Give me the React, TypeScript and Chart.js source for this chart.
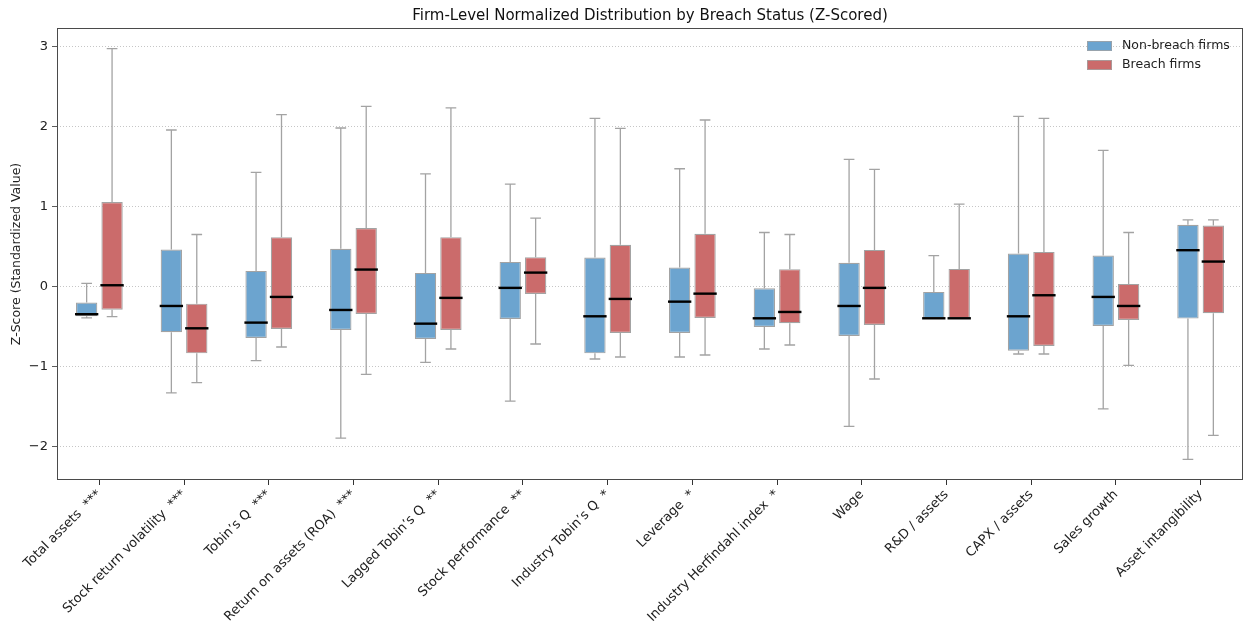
import { useEffect, useRef } from 'react';
import { Chart, registerables } from 'chart.js';

Chart.register(...registerables);

const categories = [
  'Total assets  ***',
  'Stock return volatility  ***',
  'Tobin’s Q  ***',
  'Return on assets (ROA)  ***',
  'Lagged Tobin’s Q  **',
  'Stock performance  **',
  'Industry Tobin’s Q  *',
  'Leverage  *',
  'Industry Herfindahl index  *',
  'Wage',
  'R&D / assets',
  'CAPX / assets',
  'Sales growth',
  'Asset intangibility',
];

const seriesNames = ['Non-breach firms', 'Breach firms'];
const seriesColors = ['#6ca4cf', '#cb6b6b'];

// Non-breach firms
const nonMin = [-0.39, -1.327, -0.926, -1.894, -0.946, -1.43, -0.905, -0.88, -0.78, -1.747, -0.396, -0.842, -1.527, -2.16];
const nonQ1 = [-0.37, -0.571, -0.642, -0.542, -0.655, -0.404, -0.834, -0.579, -0.504, -0.617, -0.396, -0.801, -0.492, -0.4];
const nonMed = [-0.345, -0.242, -0.45, -0.292, -0.463, -0.016, -0.371, -0.188, -0.396, -0.242, -0.396, -0.371, -0.129, 0.455];
const nonQ3 = [-0.2, 0.463, 0.196, 0.472, 0.171, 0.309, 0.363, 0.238, -0.02, 0.297, -0.066, 0.413, 0.388, 0.772];
const nonMax = [0.04, 1.957, 1.427, 1.982, 1.41, 1.282, 2.103, 1.473, 0.676, 1.59, 0.388, 2.128, 1.702, 0.835];

// Breach firms
const brMin = [-0.375, -1.2, -0.755, -1.096, -0.78, -0.717, -0.88, -0.855, -0.73, -1.155, -0.396, -0.842, -0.984, -1.86];
const brQ1 = [-0.29, -0.834, -0.529, -0.342, -0.542, -0.091, -0.579, -0.392, -0.458, -0.479, -0.396, -0.742, -0.417, -0.333];
const brMed = [0.017, -0.521, -0.129, 0.213, -0.141, 0.175, -0.154, -0.088, -0.317, -0.016, -0.396, -0.108, -0.242, 0.313];
const brQ3 = [1.056, -0.213, 0.618, 0.731, 0.618, 0.368, 0.522, 0.66, 0.218, 0.459, 0.221, 0.434, 0.034, 0.763];
const brMax = [2.975, 0.651, 2.149, 2.253, 2.233, 0.856, 1.978, 2.082, 0.651, 1.464, 1.031, 2.103, 0.676, 0.835];

const yTicks = [-2, -1, 0, 1, 2, 3];

const stats = [
  { min: nonMin, q1: nonQ1, med: nonMed, q3: nonQ3, max: nonMax },
  { min: brMin, q1: brQ1, med: brMed, q3: brQ3, max: brMax },
];

const FONT = "'DejaVu Sans', sans-serif";

const boxPlugin = {
  id: 'boxExtras',
  beforeDatasetsDraw(chart: any) {
    const y = chart.scales.y;
    const ctx = chart.ctx;
    ctx.save();
    ctx.strokeStyle = '#a3a3a3';
    ctx.lineWidth = 1.3;
    stats.forEach((s, di) => {
      const meta = chart.getDatasetMeta(di);
      meta.data.forEach((bar: any, i: number) => {
        const x = bar.x;
        const cw = bar.width * 0.5;
        const pMin = y.getPixelForValue(s.min[i]);
        const pQ1 = y.getPixelForValue(s.q1[i]);
        const pQ3 = y.getPixelForValue(s.q3[i]);
        const pMax = y.getPixelForValue(s.max[i]);
        ctx.beginPath();
        ctx.moveTo(x, pQ1);
        ctx.lineTo(x, pMin);
        ctx.moveTo(x - cw / 2, pMin);
        ctx.lineTo(x + cw / 2, pMin);
        ctx.moveTo(x, pQ3);
        ctx.lineTo(x, pMax);
        ctx.moveTo(x - cw / 2, pMax);
        ctx.lineTo(x + cw / 2, pMax);
        ctx.stroke();
      });
    });
    ctx.restore();
  },
  afterDatasetsDraw(chart: any) {
    const y = chart.scales.y;
    const ctx = chart.ctx;
    ctx.save();
    ctx.strokeStyle = '#000000';
    ctx.lineWidth = 2.4;
    stats.forEach((s, di) => {
      const meta = chart.getDatasetMeta(di);
      meta.data.forEach((bar: any, i: number) => {
        const x = bar.x;
        const hw = bar.width / 2 + 1;
        const pMed = y.getPixelForValue(s.med[i]);
        ctx.beginPath();
        ctx.moveTo(x - hw, pMed);
        ctx.lineTo(x + hw, pMed);
        ctx.stroke();
      });
    });
    ctx.restore();
  },
  afterDraw(chart: any) {
    const ctx = chart.ctx;
    const a = chart.chartArea;
    ctx.save();
    ctx.strokeStyle = '#4a4a4a';
    ctx.lineWidth = 1;
    ctx.strokeRect(Math.round(a.left) + 0.5, Math.round(a.top) + 0.5, Math.round(a.right - a.left) - 1, Math.round(a.bottom - a.top) - 1);
    // legend
    const bx = a.right - 156;
    ctx.font = `12.5px ${FONT}`;
    ctx.textBaseline = 'middle';
    ctx.textAlign = 'left';
    seriesNames.forEach((name, i) => {
      const cy = a.top + 18 + i * 19;
      ctx.fillStyle = seriesColors[i];
      ctx.fillRect(bx, cy - 5, 25, 10);
      ctx.strokeStyle = '#a3a3a3';
      ctx.lineWidth = 0.8;
      ctx.strokeRect(bx + 0.5, cy - 5 + 0.5, 24, 9);
      ctx.fillStyle = '#222222';
      ctx.fillText(name, bx + 35, cy);
    });
    ctx.restore();
  },
};

export default function App() {
  const ref = useRef<HTMLCanvasElement | null>(null);
  useEffect(() => {
    document.body.style.margin = '0';
    const canvas = ref.current;
    if (!canvas) return;
    const chart = new Chart(canvas, {
      type: 'bar',
      data: {
        labels: categories,
        datasets: stats.map((s, di) => ({
          label: seriesNames[di],
          data: categories.map((_, i) => [s.q1[i], s.q3[i]] as [number, number]),
          backgroundColor: seriesColors[di],
          borderColor: '#a3a3a3',
          borderWidth: 1.2,
          borderSkipped: false,
          categoryPercentage: 0.6,
          barPercentage: 0.84,
        })),
      },
      options: {
        responsive: false,
        animation: false,
        layout: { padding: { left: 0, right: 2, top: 0, bottom: 0 } },
        plugins: {
          legend: { display: false },
          tooltip: { enabled: false },
          title: {
            display: true,
            fullSize: false,
            text: 'Firm-Level Normalized Distribution by Breach Status (Z-Scored)',
            color: '#111111',
            font: { family: FONT, size: 15, weight: 'normal' },
            padding: { top: 7, bottom: 3 },
          },
        },
        scales: {
          x: {
            type: 'category',
            offset: true,
            grid: {
              display: true,
              drawOnChartArea: false,
              drawTicks: true,
              offset: false,
              tickLength: 5,
              tickColor: '#333333',
            },
            border: { display: false },
            ticks: {
              autoSkip: false,
              maxRotation: 45,
              minRotation: 45,
              padding: 2,
              color: '#222222',
              font: { family: FONT, size: 13 },
            },
            afterFit(scale: any) {
              scale.height = 142;
            },
          },
          y: {
            type: 'linear',
            min: -2.417,
            max: 3.232,
            afterBuildTicks(scale: any) {
              scale.ticks = yTicks.map((v) => ({ value: v }));
            },
            grid: {
              color: '#b8b8b8',
              lineWidth: 0.8,
              drawTicks: true,
              tickLength: 5,
              tickColor: '#333333',
              tickBorderDash: [],
            },
            border: { display: false, dash: [1, 2] },
            ticks: {
              padding: 4,
              color: '#222222',
              font: { family: FONT, size: 13 },
              callback: (v: any) => (Number(v) < 0 ? '\u2212' + Math.abs(Number(v)) : String(v)),
            },
            title: {
              display: true,
              text: 'Z-Score (Standardized Value)',
              color: '#222222',
              font: { family: FONT, size: 12.5 },
              padding: { top: 9, bottom: 0 },
            },
            afterFit(scale: any) {
              scale.width = 57;
            },
          },
        },
      },
      plugins: [boxPlugin],
    });
    return () => chart.destroy();
  }, []);
  return <canvas ref={ref} width={1245} height={622} />;
}
